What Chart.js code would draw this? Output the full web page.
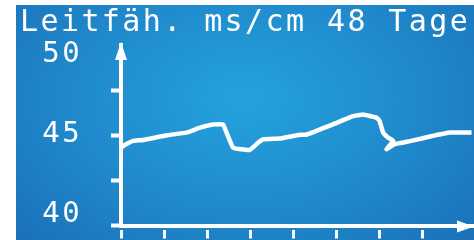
<!DOCTYPE html>
<html>
<head>
<meta charset="utf-8">
<script src="https://cdn.jsdelivr.net/npm/chart.js@4.4.1/dist/chart.umd.min.js"></script>
<style>
  html, body { margin: 0; padding: 0; background: #fff; }
  #wrap {
    position: absolute; left: 16px; top: 5px; width: 458px; height: 235px;
    background: radial-gradient(ellipse 75% 95% at 50% 40%, #25a2de 0%, #1f89cc 50%, #1a6cb5 100%);
  }
</style>
</head>
<body>
<div id="wrap"><canvas id="chart" width="458" height="235"></canvas></div>
<script>
// --- Data ---
const TITLE = 'Leitfäh. ms/cm 48 Tage';
const days   = [0, 0.7, 1.7, 3.1, 6.4, 9.1, 11.0, 12.8, 14.2, 15.6, 17.9, 19.0, 19.8, 22.1, 24.9, 25.8,
                29.5, 32.3, 33.7, 35.6, 36.0, 36.5, 37.2, 37.9, 36.95, 38.1, 40.4, 43.0, 45.8, 48.8];
const values = [44.32, 44.5, 44.69, 44.74, 45.0, 45.15, 45.42, 45.6, 45.6, 44.32, 44.19, 44.56, 44.78, 44.82, 45.03, 45.03,
                45.6, 46.06, 46.15, 45.97, 45.79, 45.15, 44.87, 44.69, 44.23, 44.51, 44.69, 44.93, 45.15, 45.15];
const yTickValues  = [40, 42.5, 45, 47.5, 50];
const yLabelValues = [40, 45, 50];
const xTickDays    = [0, 6, 12, 18, 24, 30, 36, 42];

const WHITE = '#ffffff';
const FONT = 'DejaVu Sans Mono';

// wide letter spacing like the device display
const spacingPlugin = {
  id: 'spacing',
  beforeDraw(chart) { chart.ctx.letterSpacing = '2.4px'; },
  afterDraw(chart) { chart.ctx.letterSpacing = '0px'; }
};

// arrow heads on both axes
const arrowPlugin = {
  id: 'arrows',
  afterDraw(chart) {
    const { ctx, chartArea: a } = chart;
    ctx.save();
    ctx.fillStyle = WHITE;
    ctx.beginPath();
    ctx.moveTo(a.left, a.top - 3);
    ctx.lineTo(a.left - 6, a.top + 15);
    ctx.lineTo(a.left + 6, a.top + 15);
    ctx.closePath();
    ctx.fill();
    ctx.beginPath();
    ctx.moveTo(a.right + 1, a.bottom + 1);
    ctx.lineTo(a.right - 16, a.bottom - 5);
    ctx.lineTo(a.right - 16, a.bottom + 7);
    ctx.closePath();
    ctx.fill();
    ctx.restore();
  }
};

new Chart(document.getElementById('chart'), {
  type: 'line',
  data: {
    datasets: [{
      data: days.map((d, i) => ({ x: d, y: values[i] })),
      borderColor: WHITE,
      borderWidth: 4.5,
      pointRadius: 0,
      tension: 0.1,
      fill: false,
      borderJoinStyle: 'round'
    }]
  },
  options: {
    responsive: false,
    devicePixelRatio: 1,
    animation: false,
    layout: { padding: { left: 4, right: 1, top: 0, bottom: 0 } },
    plugins: {
      legend: { display: false },
      tooltip: { enabled: false },
      title: {
        display: true,
        text: TITLE,
        align: 'start',
        color: WHITE,
        font: { family: FONT, size: 30, weight: 'normal', lineHeight: 1 },
        padding: { top: 3, bottom: 7 }
      }
    },
    scales: {
      x: {
        type: 'linear', min: 0, max: 49,
        afterBuildTicks: s => { s.ticks = xTickDays.map(v => ({ value: v })); },
        afterFit: s => { s.height = 13; },
        ticks: { display: false },
        grid: { drawOnChartArea: false, tickLength: 13, tickWidth: 3, tickColor: WHITE, tickBorderDash: [0, 2, 20] },
        border: { display: true, color: WHITE, width: 4 }
      },
      y: {
        type: 'linear', min: 40, max: 50, position: 'left', weight: 0,
        afterBuildTicks: s => { s.ticks = yTickValues.map(v => ({ value: v })); },
        afterFit: s => { s.width = 42; },
        ticks: { display: false },
        grid: {
          drawOnChartArea: false, tickLength: 10, tickWidth: 4,
          tickColor: c => (c.tick && c.tick.value === 50) ? 'rgba(0,0,0,0)' : WHITE
        },
        border: { display: true, color: WHITE, width: 4 }
      },
      y2: {
        type: 'linear', min: 39.32, max: 50.62, position: 'left', weight: 1,
        afterBuildTicks: s => { s.ticks = yLabelValues.map(v => ({ value: v })); },
        afterFit: s => { s.width = 59; },
        grid: { display: false, drawTicks: false },
        border: { display: false },
        ticks: { color: WHITE, padding: -3, font: { family: FONT, size: 29 }, callback: v => String(v) }
      }
    }
  },
  plugins: [spacingPlugin, arrowPlugin]
});
</script>
</body>
</html>
